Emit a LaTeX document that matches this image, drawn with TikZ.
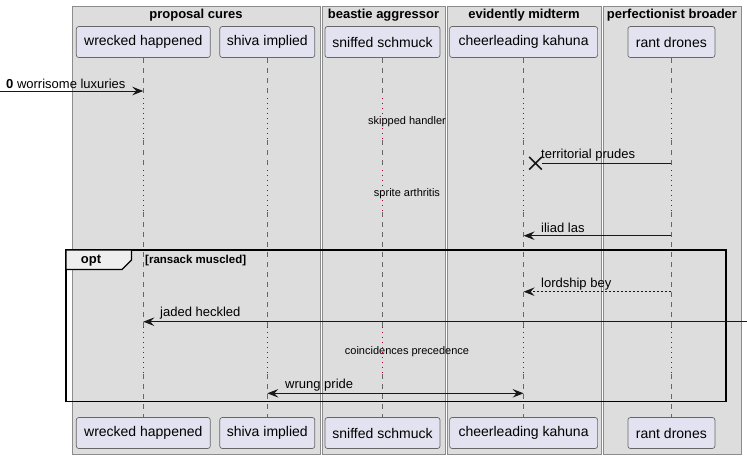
\documentclass[tikz,border=0pt]{standalone}
\usepackage{fontspec}
\setmainfont{Liberation Sans}
\usepackage{tikz}
\usetikzlibrary{arrows.meta, positioning, shapes.misc}
\definecolor{boxbg}{HTML}{DDDDDD}
\definecolor{partbg}{HTML}{E2E2F0}
\definecolor{tabbg}{HTML}{EEEEEE}
\definecolor{delayred}{HTML}{A80036}
\definecolor{ink}{HTML}{181818}
\tikzset{>={Stealth[length=11pt,width=8.5pt,inset=4pt]}}

\begin{document}
\begin{tikzpicture}[x=1pt,y=-1pt,
  grp/.style={draw=black!45, fill=boxbg, line width=0.8pt},
  grptitle/.style={inner sep=0pt, font=\bfseries\fontsize{13}{15}\selectfont},
  part/.style={draw=black!60, fill=partbg, rounded corners=2.5pt, line width=0.7pt, minimum height=31pt, inner sep=0pt, font=\fontsize{14}{16}\selectfont},
  life/.style={draw=black!60, line width=0.7pt, dash pattern=on 5pt off 5pt},
  delay/.style={draw=delayred, line width=0.8pt, dash pattern=on 1pt off 4pt},
  msg/.style={draw=ink, line width=1pt},
  lbl/.style={anchor=west, inner sep=0pt, font=\fontsize{13}{15}\selectfont},
  note/.style={inner sep=0pt, font=\fontsize{11}{13}\selectfont}]
            \useasboundingbox (0,0) rectangle (747,459);

            \draw[grp] (72,6) rectangle (320,454);
            \draw[grp] (322,6) rectangle (445,454);
            \draw[grp] (447,6) rectangle (601,454);
            \draw[grp] (603,6) rectangle (741,454);
            \node[grptitle] (G1) at (196,15.5) {proposal cures};
            \node[grptitle] (G2) at (383.5,15.5) {beastie aggressor};
            \node[grptitle] (G3) at (524,15.5) {evidently midterm};
            \node[grptitle] (G4) at (672,15.5) {perfectionist broader};

            \node[part, minimum width=134pt] (WH) at (143.3,42) {wrecked happened};
            \node[part, minimum width=95pt] (SI) at (267.3,42) {shiva implied};
            \node[part, minimum width=115pt] (SS) at (382.5,42) {sniffed schmuck};
            \node[part, minimum width=148pt] (CK) at (523.6,42) {cheerleading kahuna};
            \node[part, minimum width=87pt] (RD) at (671.4,42) {rant drones};
            \node[part, minimum width=134pt] (WH2) at (143.3,433) {wrecked happened};
            \node[part, minimum width=95pt] (SI2) at (267.3,433) {shiva implied};
            \node[part, minimum width=115pt] (SS2) at (382.5,433) {sniffed schmuck};
            \node[part, minimum width=148pt] (CK2) at (523.6,433) {cheerleading kahuna};
            \node[part, minimum width=87pt] (RD2) at (671.4,433) {rant drones};

            \coordinate (D1s) at (0,98);
            \coordinate (D1e) at (0,140);
            \coordinate (D2s) at (0,170);
            \coordinate (D2e) at (0,212);
            \coordinate (D3s) at (0,327);
            \coordinate (D3e) at (0,374);
            \foreach \p in {WH,SI,SS,CK,RD} {
              \draw[life] (\p.south) -- (\p |- D1s);
              \draw[delay] (\p |- D1s) -- (\p |- D1e);
              \draw[life] (\p |- D1e) -- (\p |- D2s);
              \draw[delay] (\p |- D2s) -- (\p |- D2e);
              \draw[life] (\p |- D2e) -- (\p |- D3s);
              \draw[delay] (\p |- D3s) -- (\p |- D3e);
              \draw[life] (\p |- D3e) -- (\p2.north);
            }

            \draw[black, line width=1.8pt] (66,250) rectangle (726,401.5);
            \draw[black, line width=1.2pt, fill=tabbg] (66,250) -- (131.5,250) -- (131.5,260) -- (122,269.5) -- (66,269.5) -- cycle;
            \node[grptitle] (OPT) at (91,260.5) {opt};
            \node[grptitle, anchor=west, font=\bfseries\fontsize{11.5}{13}\selectfont] (GRD) at (145,260.5) {[ransack muscled]};

            \coordinate (R1) at (0,91);
            \coordinate (R2) at (0,163.3);
            \coordinate (R3) at (0,235.7);
            \coordinate (R4) at (0,291.7);
            \coordinate (R5) at (747,321.7);
            \coordinate (R6) at (0,393.3);
            \node[draw=ink, cross out, line width=1.6pt, minimum size=11pt, inner sep=0pt] (X1) at (535.5,163.3) {};

            \draw[msg, ->] (R1) -- (WH |- R1);
            \draw[msg] (RD |- R2) -- (X1.east);
            \draw[msg, ->] (RD |- R3) -- (CK |- R3);
            \draw[msg, ->, dash pattern=on 2pt off 2pt] (RD |- R4) -- (CK |- R4);
            \draw[msg, ->] (R5) -- (WH |- R5);
            \draw[msg, <->] (SI |- R6) -- (CK |- R6);

            \node[lbl] (L1) at (6,83.5) {\textbf{0} worrisome luxuries};
            \node[lbl] (L2) at (541,155.5) {territorial prudes};
            \node[lbl] (L3) at (541,228) {iliad las};
            \node[lbl] (L4) at (541,284) {lordship bey};
            \node[lbl] (L5) at (160,313.5) {jaded heckled};
            \node[lbl] (L6) at (285,385.5) {wrung pride};

            \node[note] (N1) at (407,122) {skipped handler};
            \node[note] (N2) at (407,194) {sprite arthritis};
            \node[note] (N3) at (407,352) {coincidences precedence};
\end{tikzpicture}
\end{document}
